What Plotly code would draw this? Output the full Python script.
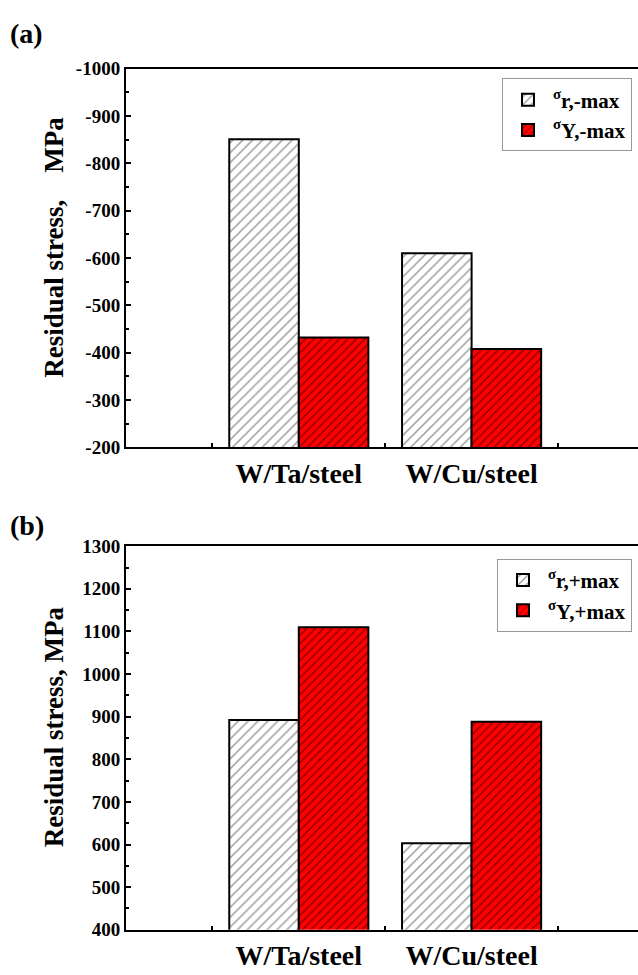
import plotly.graph_objects as go

categories = ["W/Ta/steel", "W/Cu/steel"]
a_sigma_r = [-851, -610]
a_sigma_y = [-432, -408]
b_sigma_r = [892, 603]
b_sigma_y = [1110, 888]
a_ticks = [-1000, -900, -800, -700, -600, -500, -400, -300, -200]
b_ticks = [1300, 1200, 1100, 1000, 900, 800, 700, 600, 500, 400]
a_names = ["<sup>σ</sup>r,-max", "<sup>σ</sup>Y,-max"]
b_names = ["<sup>σ</sup>r,+max", "<sup>σ</sup>Y,+max"]

FONT = "Liberation Serif"
W, H = 638, 975

def hatch_white():
    return dict(color="white", line=dict(color="black", width=2),
                pattern=dict(shape="/", fgcolor="#3c3c3c", bgcolor="white",
                             size=7, solidity=0.22, fillmode="overlay"))

def hatch_red():
    return dict(color="#ff0000", line=dict(color="black", width=2),
                pattern=dict(shape="/", fgcolor="#000000", bgcolor="#ff0000",
                             size=6, solidity=0.2, fillmode="overlay"))

fig = go.Figure()
fig.add_trace(go.Bar(x=categories, y=a_sigma_r, name=a_names[0], marker=hatch_white(),
                     xaxis="x", yaxis="y", legend="legend"))
fig.add_trace(go.Bar(x=categories, y=a_sigma_y, name=a_names[1], marker=hatch_red(),
                     xaxis="x", yaxis="y", legend="legend"))
fig.add_trace(go.Bar(x=categories, y=b_sigma_r, name=b_names[0], marker=hatch_white(),
                     xaxis="x2", yaxis="y2", legend="legend2"))
fig.add_trace(go.Bar(x=categories, y=b_sigma_y, name=b_names[1], marker=hatch_red(),
                     xaxis="x2", yaxis="y2", legend="legend2"))

x_dom = [126 / W, 1.0]
ya_dom = [1 - 447 / H, 1 - 60 / H]
yb_dom = [1 - 940 / H, 1 - 548 / H]

def xaxis(anchor):
    return dict(domain=x_dom, anchor=anchor, type="category",
                range=[-1, 1.963], showline=True, linecolor="black", linewidth=2,
                mirror=True, ticks="inside", tickson="boundaries", ticklen=4,
                tickwidth=1.5, tickcolor="black", showgrid=False, zeroline=False,
                ticklabelstandoff=0,
                tickfont=dict(family=FONT, size=28, color="black", weight="bold"))

def yaxis(anchor, dom, rng, ticks):
    return dict(domain=dom, anchor=anchor, range=rng, showline=True, linecolor="black",
                linewidth=2, mirror=False, ticks="inside", ticklen=5, tickwidth=1.5,
                tickcolor="black", tickvals=ticks, ticktext=[str(t) for t in ticks],
                showgrid=False, zeroline=False,
                minor=dict(dtick=50, ticks="inside", ticklen=3, tickwidth=1.5,
                           tickcolor="black", showgrid=False),
                tickfont=dict(family=FONT, size=19, color="black", weight="bold"))

legend_common = dict(bgcolor="white", bordercolor="#999999", borderwidth=1,
                     xanchor="left", yanchor="top",
                     font=dict(family=FONT, size=21, color="black", weight="bold"),
                     tracegroupgap=2, itemwidth=40)

fig.update_layout(
    width=W, height=H,
    margin=dict(l=0, r=0, t=0, b=0),
    paper_bgcolor="white", plot_bgcolor="white",
    barmode="group", bargap=0.195, bargroupgap=0,
    xaxis=xaxis("y"), yaxis=yaxis("x", ya_dom, [-200, -1000], a_ticks),
    xaxis2=xaxis("y2"), yaxis2=yaxis("x2", yb_dom, [400, 1300], b_ticks),
    legend=dict(x=502 / W, y=1 - 70 / H, **legend_common),
    legend2=dict(x=497 / W, y=1 - 561 / H, **legend_common),
    annotations=[
        dict(text="(a)", x=8 / W, y=1 - 24 / H, xref="paper", yref="paper",
             xanchor="left", yanchor="middle", showarrow=False,
             font=dict(family=FONT, size=28, color="black", weight="bold")),
        dict(text="(b)", x=8 / W, y=1 - 527 / H, xref="paper", yref="paper",
             xanchor="left", yanchor="middle", showarrow=False,
             font=dict(family=FONT, size=28, color="black", weight="bold")),
        dict(text="Residual stress,    MPa", x=54 / W, y=1 - 243 / H, xref="paper", yref="paper",
             xanchor="center", yanchor="middle", textangle=-90, showarrow=False,
             font=dict(family=FONT, size=27, color="black", weight="bold")),
        dict(text="Residual stress, MPa", x=54 / W, y=1 - 733 / H, xref="paper", yref="paper",
             xanchor="center", yanchor="middle", textangle=-90, showarrow=False,
             font=dict(family=FONT, size=27, color="black", weight="bold")),
    ],
)

fig.write_html("out.html")
